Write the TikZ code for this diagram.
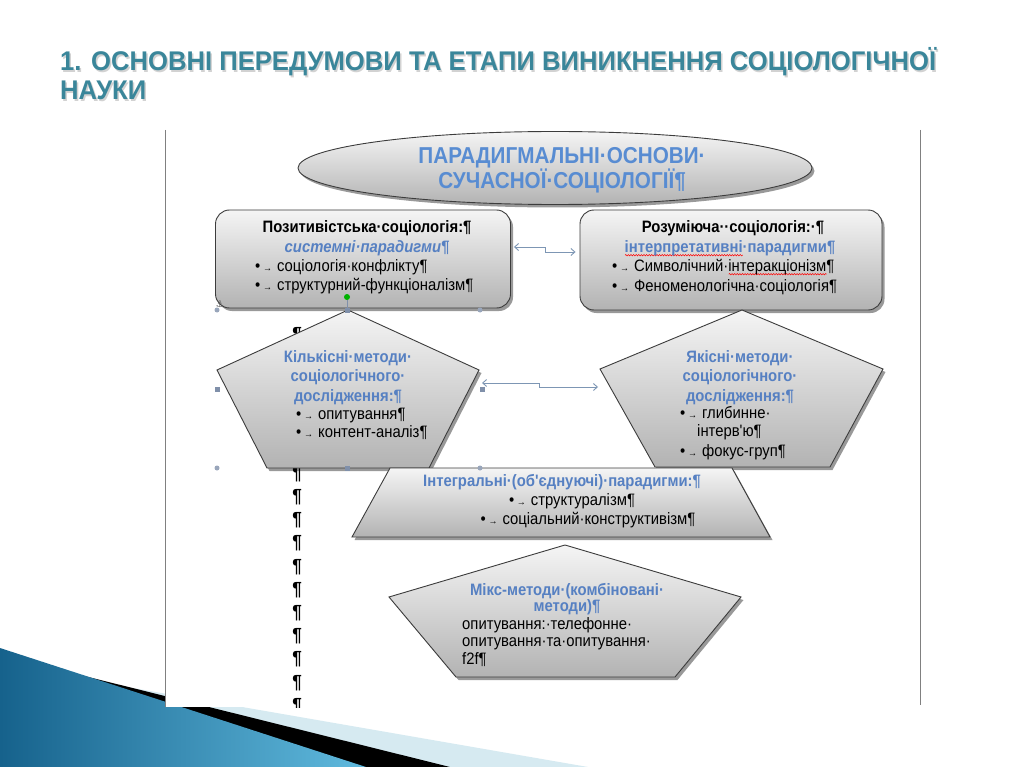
\documentclass[tikz,border=0pt]{standalone}
\usepackage{fontspec}
\setmainfont{Liberation Sans}
\newfontfamily\nar[FakeStretch=0.9]{Liberation Sans}
\newfontfamily\ttlfont[FakeStretch=0.95]{Liberation Sans}
\newfontfamily\djv{DejaVu Sans}
\usetikzlibrary{shapes.geometric,shadows,arrows.meta,decorations.pathmorphing}
\definecolor{ttl}{RGB}{58,134,154}
\definecolor{hblue}{RGB}{86,128,194}
\definecolor{ellblue}{RGB}{88,140,210}
\definecolor{conncol}{RGB}{125,150,180}
\definecolor{edgecol}{RGB}{60,60,60}
\definecolor{handle}{RGB}{128,144,170}
\definecolor{swdark}{RGB}{22,98,140}
\definecolor{swlight}{RGB}{96,186,222}
\definecolor{swpale}{RGB}{214,234,241}
\newcommand\bul{•\,{\fontsize{10}{10}\selectfont→}\hspace{0.3em}}
\newsavebox\sperrbox
\newcommand\sperr[2]{\sbox\sperrbox{\textcolor{#1}{#2}}%
  \rlap{\tikz[baseline=0pt]\draw[red,line width=0.5pt,decorate,decoration={snake,amplitude=0.7pt,segment length=2.6pt}] (0pt,-3.2pt) -- (\wd\sperrbox,-3.2pt);}%
  \usebox\sperrbox}
\begin{document}
\begin{tikzpicture}[x=1pt,y=-1pt,
 shp/.style={draw=edgecol,line width=0.9pt,top color=white!92!gray,bottom color=gray!60,
   drop shadow={shadow xshift=2.5pt,shadow yshift=-3pt,opacity=0.4,fill=black}},
 hdr/.style={font=\nar\bfseries\fontsize{16.5}{19}\selectfont,text=hblue,inner sep=0pt,anchor=base},
 blk/.style={font=\nar\bfseries\fontsize{16.5}{19}\selectfont,inner sep=0pt,anchor=base},
 txt/.style={font=\nar\fontsize{16.5}{19}\selectfont,inner sep=0pt,anchor=base west},
 ctxt/.style={font=\nar\fontsize{16.5}{19}\selectfont,inner sep=0pt,anchor=base},
 conn/.style={draw=conncol,line width=0.9pt,{Straight Barb[length=4pt,width=7pt]}-{Straight Barb[length=4pt,width=7pt]}},
 pil/.style={font=\nar\bfseries\fontsize{19}{19}\selectfont,inner sep=0pt,anchor=base},
 hsq/.style={fill=handle,minimum size=5pt,inner sep=0pt},
 hci/.style={circle,fill=handle!80,minimum size=5pt,inner sep=0pt},
 ttlf/.style={font=\ttlfont\bfseries\fontsize{27}{27}\selectfont,anchor=base west,inner sep=0pt},
]
\useasboundingbox (0,0) rectangle (1024,767);
\fill[white] (0,0) rectangle (1024,767);
% decorative swoosh
\fill[swpale] (0,665) -- (588,767) -- (0,767) -- cycle;
\fill[black] (0,655) -- (450,767) -- (0,767) -- cycle;
\shade[left color=swdark,right color=swlight] (0,648) -- (366,767) -- (0,767) -- cycle;
% title
\node[ttlf,text=gray!35] (title1s) at (61.5,72.5) {1. ОСНОВНІ ПЕРЕДУМОВИ ТА ЕТАПИ ВИНИКНЕННЯ СОЦІОЛОГІЧНОЇ};
\node[ttlf,text=gray!35] (title2s) at (61.5,101.5) {НАУКИ};
\node[ttlf,text=ttl] (title1) at (60,71) {1. ОСНОВНІ ПЕРЕДУМОВИ ТА ЕТАПИ ВИНИКНЕННЯ СОЦІОЛОГІЧНОЇ};
\node[ttlf,text=ttl] (title2) at (60,100) {НАУКИ};
% embedded picture panel
\fill[white] (165,130) rectangle (922,707);
\draw[gray,line width=1pt] (165,130) -- (165,707);
\draw[gray,line width=1pt] (920,130) -- (920,705);
% paragraph marks column (only the visible ones)
\begin{scope}
\clip (165,130) rectangle (922,707);
\node[pil] (pm0) at (297,340) {¶};
\foreach \i in {6,...,16}{
  \node[pil] (pm\i) at (297,{340+23.2*\i}) {¶};
}
\end{scope}
% ellipse
\node[shp,ellipse,minimum width=514pt,minimum height=73pt] (ell) at (555,168) {};
\node[font=\nar\bfseries\fontsize{23}{24}\selectfont,text=ellblue,inner sep=0pt,anchor=base] (ellt1) at (562,164) {ПАРАДИГМАЛЬНІ·ОСНОВИ·};
\node[font=\nar\bfseries\fontsize{23}{24}\selectfont,text=ellblue,inner sep=0pt,anchor=base] (ellt2) at (562,189) {СУЧАСНОЇ·СОЦІОЛОГІЇ¶};
% rounded boxes
\node[shp,rounded corners=14pt,minimum width=295pt,minimum height=98pt] (lbox) at (363,259) {};
\node[shp,rounded corners=14pt,minimum width=302pt,minimum height=100pt] (rbox) at (731,260) {};
\node[blk] (lb1) at (367,233) {Позитивістська·соціологія:¶};
\node[hdr,font=\nar\bfseries\itshape\fontsize{16.5}{19}\selectfont] (lb2) at (367,252) {системні·парадигми¶};
\node[txt] (lb3) at (255,271) {\bul соціологія·конфлікту¶};
\node[txt] (lb4) at (255,290) {\bul структурний-функціоналізм¶};
\node[blk] (rb1) at (733,233) {Розуміюча··соціологія:·¶};
\node[hdr] (rb2) at (730,252) {\sperr{hblue}{інтерпретативні}·парадигми¶};
\node[txt] (rb3) at (612,271) {\bul Символічний·\sperr{black}{інтеракціонізм}¶};
\node[txt] (rb4) at (612,291) {\bul Феноменологічна·соціологія¶};
% connector between boxes
\draw[conn] ([xshift=3pt,yshift=12pt]lbox.east) -- ++(31,0) |- ([xshift=-4pt,yshift=8pt]rbox.west);
% pentagons
\draw[shp] (348,310) -- (479,370) -- (429,468) -- (267,468) -- (217,370) -- cycle;
\draw[shp] (742,310) -- (883,369) -- (830,467) -- (655,467) -- (600,369) -- cycle;
\node[hdr] (lp1) at (348,362) {Кількісні·методи·};
\node[hdr] (lp2) at (348,381) {соціологічного·};
\node[hdr] (lp3) at (348,401) {дослідження:¶};
\node[txt] (lp4) at (296,419) {\bul опитування¶};
\node[txt] (lp5) at (296,437) {\bul контент-аналіз¶};
\node[hdr] (rp1) at (740,362) {Якісні·методи·};
\node[hdr] (rp2) at (740,381) {соціологічного·};
\node[hdr] (rp3) at (740,401) {дослідження:¶};
\node[txt] (rp4) at (680,418) {\bul глибинне·};
\node[txt] (rp5) at (697,436) {інтерв'ю¶};
\node[txt] (rp6) at (680,456) {\bul фокус-груп¶};
\coordinate (lpE) at (482,383);
\coordinate (rpW) at (598,387);
\draw[conn] (lpE) -- ++(57,0) |- (rpW);
% trapezoid
\draw[shp] (390,468) -- (732,468) -- (770,537) -- (352,537) -- cycle;
\node[hdr] (tz1) at (562,486) {Інтегральні·(об'єднуючі)·парадигми:¶};
\node[ctxt] (tz2) at (572,505) {\bul структуралізм¶};
\node[ctxt] (tz3) at (588,524) {\bul соціальний·конструктивізм¶};
% bottom pentagon
\draw[shp] (565,545) -- (741,597) -- (675,677) -- (456,677) -- (389,597) -- cycle;
\node[hdr] (bp1) at (567,595) {Мікс-методи·(комбіновані·};
\node[hdr] (bp2) at (567,611) {методи)¶};
\node[txt] (bp3) at (462,629) {опитування:·телефонне·};
\node[txt] (bp4) at (462,646) {опитування·та·опитування·};
\node[txt] (bp5) at (462,664) {f2f¶};
% selection handles
\draw[handle,line width=0.6pt] (347,300) -- (347,310);
\node[circle,fill=green!70!black,minimum size=6pt,inner sep=0pt] (rot) at (347,297) {};
\node[hsq] (h1) at (347,310) {};
\node[hsq] (h2) at (347,468) {};
\node[hsq] (h3) at (217,389) {};
\node[hsq] (h4) at (482,389) {};
\node[hci] (h5) at (217,310) {};
\node[hci] (h6) at (480,310) {};
\node[hci] (h7) at (217,468) {};
\node[hci] (h8) at (480,468) {};
\node[font=\djv\fontsize{9}{9}\selectfont,text=gray!70!black,inner sep=0pt] (anch) at (220,304) {⚓};
\end{tikzpicture}
\end{document}
